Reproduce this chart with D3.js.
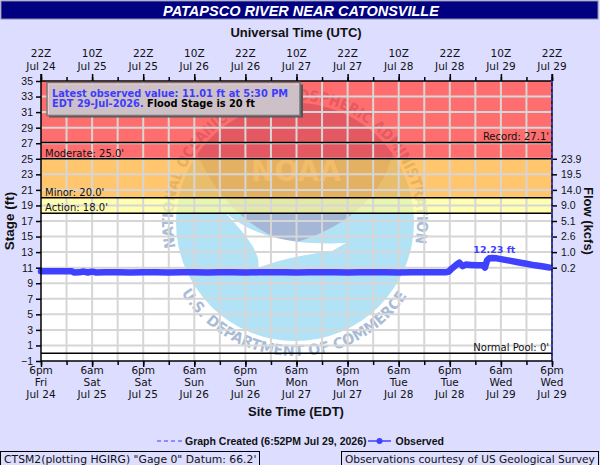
<!DOCTYPE html>
<html>
<head>
<meta charset="utf-8">
<script src="https://cdn.jsdelivr.net/npm/d3@7"></script>
<style>
  body { margin: 0; background: #ddddff; }
  svg { display: block; font-family: "DejaVu Sans", Verdana, sans-serif; }
</style>
</head>
<body>
<div id="chart"></div>
<script>
var chartTitle = "PATAPSCO RIVER NEAR CATONSVILLE";
var stageTicks = [-1, 1, 3, 5, 7, 9, 11, 13, 15, 17, 19, 21, 23, 25, 27, 29, 31, 33, 35];
var flowTickStages = [25, 23, 21, 19, 17, 15, 13, 11];
var flowTickLabels = ["23.9", "19.5", "14.0", "9.0", "5.1", "2.6", "1.0", "0.2"];
var utcTickLabels = ["22Z", "10Z", "22Z", "10Z", "22Z", "10Z", "22Z", "10Z", "22Z", "10Z", "22Z"];
var utcTickDates = ["Jul 24", "Jul 25", "Jul 25", "Jul 26", "Jul 26", "Jul 27", "Jul 27", "Jul 28", "Jul 28", "Jul 29", "Jul 29"];
var siteTickHours = ["6pm", "6am", "6pm", "6am", "6pm", "6am", "6pm", "6am", "6pm", "6am", "6pm"];
var siteTickDays = ["Fri", "Sat", "Sat", "Sun", "Sun", "Mon", "Mon", "Tue", "Tue", "Wed", "Wed"];
var siteTickDates = ["Jul 24", "Jul 25", "Jul 25", "Jul 26", "Jul 26", "Jul 27", "Jul 27", "Jul 28", "Jul 28", "Jul 29", "Jul 29"];

var actionStage = 18, minorStage = 20, moderateStage = 25, recordStage = 27.1, normalPool = 0;
var peakStage = 12.23;

var obsTimes = [
  "2026-07-24 18:00", "2026-07-24 21:00", "2026-07-25 00:00", "2026-07-25 01:15", "2026-07-25 01:45",
  "2026-07-25 03:00", "2026-07-25 04:00", "2026-07-25 05:00", "2026-07-25 06:00", "2026-07-25 07:00",
  "2026-07-25 09:00", "2026-07-25 12:00", "2026-07-25 15:00", "2026-07-25 18:00", "2026-07-25 21:00",
  "2026-07-26 00:00", "2026-07-26 03:00", "2026-07-26 06:00", "2026-07-26 09:00", "2026-07-26 12:00",
  "2026-07-26 15:00", "2026-07-26 18:00", "2026-07-26 21:00", "2026-07-27 00:00", "2026-07-27 03:00",
  "2026-07-27 06:00", "2026-07-27 09:00", "2026-07-27 12:00", "2026-07-27 15:00", "2026-07-27 18:00",
  "2026-07-27 21:00", "2026-07-28 00:00", "2026-07-28 03:00", "2026-07-28 06:00", "2026-07-28 09:00",
  "2026-07-28 12:00", "2026-07-28 15:00", "2026-07-28 17:00", "2026-07-28 17:45", "2026-07-28 18:30",
  "2026-07-28 19:30", "2026-07-28 20:15", "2026-07-28 21:00", "2026-07-28 21:45", "2026-07-28 23:00",
  "2026-07-29 00:30", "2026-07-29 01:45", "2026-07-29 02:15", "2026-07-29 02:45", "2026-07-29 03:15",
  "2026-07-29 04:00", "2026-07-29 05:00", "2026-07-29 06:00", "2026-07-29 08:00", "2026-07-29 10:00",
  "2026-07-29 12:00", "2026-07-29 14:00", "2026-07-29 16:00", "2026-07-29 17:30"
];
var obsStage = [
  10.55, 10.55, 10.55, 10.55, 10.38,
  10.40, 10.50, 10.38, 10.50, 10.38,
  10.40, 10.40, 10.38, 10.40, 10.40,
  10.38, 10.40, 10.40, 10.38, 10.40,
  10.40, 10.38, 10.40, 10.40, 10.40,
  10.38, 10.40, 10.40, 10.40, 10.38,
  10.40, 10.40, 10.40, 10.38, 10.40,
  10.40, 10.40, 10.40, 10.50, 10.90,
  11.35, 11.65, 11.20, 11.40, 11.35,
  11.30, 11.30, 11.00, 11.95, 12.20,
  12.23, 12.20, 12.10, 11.90, 11.70,
  11.50, 11.30, 11.15, 11.01
];

// ---- layout / style ----
var W = 600, H = 465;
var margin = {top: 81, right: 48, bottom: 104, left: 41};
var plotW = W - margin.left - margin.right;
var plotH = H - margin.top - margin.bottom;
// bands are laid semi-transparent over the watermark (0.7 opacity gives #ff6f6f, #ffc66f, #ffffb3 on white)
var colors = {bg: "#ddddff", action: "#ffff92", minor: "#ffae31", moderate: "#ff3131", bandOpacity: 0.7,
  grid: "#d6d6d6", obs: "#4040ff", title: "#000080",
  wmLight: "#b2e2f6", wmDark: "#a6b6d6", wmText: "#a8bcd8"};

var parse = d3.timeParse("%Y-%m-%d %H:%M");
var obs = obsTimes.map(function(t, i) { return {t: parse(t), v: obsStage[i]}; });
var t0 = parse("2026-07-24 18:00"), t1 = parse("2026-07-29 18:00");

var x = d3.scaleTime().domain([t0, t1]).range([0, plotW]);
var y = d3.scaleLinear().domain([-1, 35]).range([plotH, 0]);
var majorTimes = d3.timeHour.range(t0, d3.timeMinute.offset(t1, 1), 12);
var minorTimes = d3.timeHour.range(t0, d3.timeMinute.offset(t1, 1), 6);

var svg = d3.select("#chart").append("svg").attr("width", W).attr("height", H);
svg.append("rect").attr("width", W).attr("height", H).attr("fill", colors.bg);

// title bar
svg.append("rect").attr("x", 1).attr("y", 1).attr("width", 597).attr("height", 18)
  .attr("fill", colors.title).attr("stroke", "#8888a8").attr("stroke-width", 1);
svg.append("text").attr("x", 301).attr("y", 15.5).attr("text-anchor", "middle")
  .style("font-family", "'Liberation Sans', Arial, sans-serif").style("font-weight", "bold")
  .style("font-style", "italic").style("font-size", "14.5px").attr("fill", "white").text(chartTitle);

svg.append("text").attr("x", 296).attr("y", 37).attr("text-anchor", "middle")
  .style("font-family", "'Liberation Sans', Arial, sans-serif").style("font-weight", "bold")
  .style("font-size", "13px").attr("fill", "#111").text("Universal Time (UTC)");

var g = svg.append("g").attr("transform", "translate(" + margin.left + "," + margin.top + ")");
g.append("rect").attr("width", plotW).attr("height", plotH).attr("fill", "white");

// NOAA watermark (under the flood bands)
var wm = svg.append("g").attr("class", "watermark");
var cx = 295, cy = 222, r = 119;
function pt(a, rad) { var t = a * Math.PI / 180; return [cx + rad * Math.cos(t), cy + rad * Math.sin(t)]; }
var a1 = pt(215, r), a2 = pt(325, r);
var darkPath = "M" + a1 + " A" + r + "," + r + " 0 0 1 " + a2 +
  " C385,190 352,226 294,243 C255,236 214,196 " + a1 + " Z";
wm.append("circle").attr("cx", cx).attr("cy", cy).attr("r", r).attr("fill", colors.wmLight);
wm.append("path").attr("d", darkPath).attr("fill", colors.wmDark);
wm.append("path").attr("d", "M216,203 C242,233 284,246 346,243 L332,251 C302,255 278,260 258,268 C262,252 242,230 216,203 Z")
  .attr("fill", "white");
wm.append("text").attr("x", 296).attr("y", 181).attr("text-anchor", "middle")
  .attr("textLength", 90).attr("lengthAdjust", "spacingAndGlyphs")
  .style("font-weight", "bold").style("font-size", "30px").attr("fill", "#d6dcec").text("NOAA");
var u1 = pt(168, 122), u2 = pt(12, 122);
wm.append("path").attr("id", "arcTop").attr("fill", "none")
  .attr("d", "M" + u1 + " A122,122 0 1 1 " + u2);
var l1 = pt(148, 134), l2 = pt(32, 134);
wm.append("path").attr("id", "arcBottom").attr("fill", "none")
  .attr("d", "M" + l1 + " A134,134 0 0 0 " + l2);
wm.append("text").style("font-weight", "bold").style("font-size", "15px").attr("fill", colors.wmText)
  .append("textPath").attr("href", "#arcTop").attr("textLength", 430).attr("lengthAdjust", "spacingAndGlyphs")
  .text("NATIONAL OCEANIC AND ATMOSPHERIC ADMINISTRATION");
wm.append("text").style("font-weight", "bold").style("font-size", "15px").attr("fill", colors.wmText)
  .append("textPath").attr("href", "#arcBottom").attr("textLength", 268).attr("lengthAdjust", "spacingAndGlyphs")
  .text("U.S. DEPARTMENT OF COMMERCE");

var g2 = svg.append("g").attr("transform", "translate(" + margin.left + "," + margin.top + ")");

// flood category bands
var bands = g2.append("g").attr("fill-opacity", colors.bandOpacity);
bands.append("rect").attr("x", 0).attr("width", plotW).attr("y", y(35)).attr("height", y(moderateStage) - y(35)).attr("fill", colors.moderate);
bands.append("rect").attr("x", 0).attr("width", plotW).attr("y", y(moderateStage)).attr("height", y(minorStage) - y(moderateStage)).attr("fill", colors.minor);
bands.append("rect").attr("x", 0).attr("width", plotW).attr("y", y(minorStage)).attr("height", y(actionStage) - y(minorStage)).attr("fill", colors.action);

// grid
g2.append("g").selectAll("line").data(minorTimes.slice(1, -1)).enter().append("line")
  .attr("x1", function(d) { return x(d); }).attr("x2", function(d) { return x(d); })
  .attr("y1", 0).attr("y2", plotH).attr("stroke", colors.grid).attr("stroke-width", 2);
g2.append("g").selectAll("line").data(stageTicks.slice(1, -1)).enter().append("line")
  .attr("x1", 0).attr("x2", plotW).attr("y1", function(d) { return y(d); }).attr("y2", function(d) { return y(d); })
  .attr("stroke", colors.grid).attr("stroke-width", 2);

// category lines and labels
[35, recordStage, moderateStage, minorStage, actionStage, normalPool].forEach(function(s) {
  g2.append("line").attr("x1", 0).attr("x2", plotW).attr("y1", y(s)).attr("y2", y(s))
    .attr("stroke", "black").attr("stroke-width", 1.5);
});
var lab = g2.append("g").style("font-size", "10px").attr("fill", "#111");
lab.append("text").attr("x", 4).attr("y", y(moderateStage) - 2).text("Moderate: " + moderateStage.toFixed(1) + "'");
lab.append("text").attr("x", 4).attr("y", y(minorStage) - 2).text("Minor: " + minorStage.toFixed(1) + "'");
lab.append("text").attr("x", 4).attr("y", y(actionStage) - 2).text("Action: " + actionStage.toFixed(1) + "'");
lab.append("text").attr("x", plotW - 3).attr("y", y(recordStage) - 2).attr("text-anchor", "end").text("Record: " + recordStage + "'");
lab.append("text").attr("x", plotW - 3).attr("y", y(normalPool) - 2).attr("text-anchor", "end").text("Normal Pool: " + normalPool + "'");

// observed line
var line = d3.line().x(function(d) { return x(d.t); }).y(function(d) { return y(d.v); });
g2.append("path").datum(obs).attr("d", line).attr("fill", "none").attr("stroke", colors.obs)
  .attr("stroke-width", 6.5).attr("stroke-linejoin", "round").attr("stroke-linecap", "round");
var peak = obs.reduce(function(a, b) { return b.v > a.v ? b : a; });
g2.append("text").attr("x", x(peak.t) + 2).attr("y", y(peakStage) - 5).attr("text-anchor", "middle")
  .style("font-weight", "bold").style("font-size", "9.5px").attr("fill", colors.obs).text(peakStage + " ft");

// latest value box
var last = obs[obs.length - 1];
g2.append("rect").attr("x", 8).attr("y", 3.5).attr("width", 254).attr("height", 33).attr("fill", "#555");
g2.append("rect").attr("x", 6).attr("y", 1.5).attr("width", 253).attr("height", 33)
  .attr("fill", "#f0e0e8").attr("fill-opacity", 0.78).attr("stroke", "#777").attr("stroke-width", 1.5);
var box = g2.append("text").style("font-weight", "bold").style("font-size", "9.8px");
box.append("tspan").attr("x", 11).attr("y", 15.5).attr("fill", "#3c3cff")
  .text("Latest observed value: " + last.v.toFixed(2) + " ft at 5:30 PM");
box.append("tspan").attr("x", 11).attr("y", 26).attr("fill", "#3c3cff").text("EDT 29-Jul-2026.");
box.append("tspan").attr("fill", "black").text(" Flood Stage is " + minorStage + " ft");

// axes
var tickFont = function(sel) { sel.selectAll("text").style("font-size", "10.5px").attr("fill", "#111"); sel.select(".domain").remove(); };
var yl = g2.append("g").call(d3.axisLeft(y).tickValues(stageTicks).tickSize(5).tickPadding(3));
tickFont(yl);
yl.selectAll("line").attr("stroke-width", 1.5);
g2.append("line").attr("x1", 0).attr("x2", 0).attr("y1", -7).attr("y2", plotH).attr("stroke", "black").attr("stroke-width", 1.5);

var yr = g2.append("g").attr("transform", "translate(" + plotW + ",0)")
  .call(d3.axisRight(y).tickValues(flowTickStages).tickSize(5).tickPadding(4)
    .tickFormat(function(d, i) { return flowTickLabels[i]; }));
tickFont(yr);
yr.selectAll("line").attr("stroke-width", 1.5);
g2.append("line").attr("x1", plotW).attr("x2", plotW).attr("y1", -7).attr("y2", plotH).attr("stroke", "black").attr("stroke-width", 1.5);
g2.append("line").attr("x1", plotW).attr("x2", plotW).attr("y1", -7).attr("y2", plotH).attr("stroke", "#3c3cff")
  .attr("stroke-width", 1.5).attr("stroke-dasharray", "3,3");

// bottom (site time) axis
var xb = g2.append("g").attr("transform", "translate(0," + plotH + ")");
xb.append("g").call(d3.axisBottom(x).tickValues(minorTimes).tickSize(4).tickFormat("")).call(tickFont);
xb.append("g").call(d3.axisBottom(x).tickValues(majorTimes).tickSize(6).tickFormat("")).call(tickFont);
xb.selectAll("line").attr("stroke-width", 1.5);
g2.append("line").attr("x1", 0).attr("x2", plotW).attr("y1", plotH).attr("y2", plotH).attr("stroke", "black").attr("stroke-width", 1.5);
var bl = xb.append("g").selectAll("text").data(majorTimes).enter().append("text")
  .attr("text-anchor", "middle").style("font-size", "10.5px").attr("fill", "#111");
bl.append("tspan").attr("x", function(d) { return x(d); }).attr("y", 13).text(function(d, i) { return siteTickHours[i]; });
bl.append("tspan").attr("x", function(d) { return x(d); }).attr("y", 24.5).text(function(d, i) { return siteTickDays[i]; });
bl.append("tspan").attr("x", function(d) { return x(d); }).attr("y", 37).text(function(d, i) { return siteTickDates[i]; });

// top (UTC) axis
var xt = g2.append("g");
xt.append("g").call(d3.axisTop(x).tickValues(minorTimes).tickSize(4).tickFormat("")).call(tickFont);
xt.append("g").call(d3.axisTop(x).tickValues(majorTimes).tickSize(7).tickFormat("")).call(tickFont);
xt.selectAll("line").attr("stroke-width", 1.5);
var tl = xt.append("g").selectAll("text").data(majorTimes).enter().append("text")
  .attr("text-anchor", "middle").style("font-size", "10.5px").attr("fill", "#111");
tl.append("tspan").attr("x", function(d) { return x(d); }).attr("y", -24).text(function(d, i) { return utcTickLabels[i]; });
tl.append("tspan").attr("x", function(d) { return x(d); }).attr("y", -11.5).text(function(d, i) { return utcTickDates[i]; });

// axis titles
var boldSans = function(sel) { sel.style("font-family", "'Liberation Sans', Arial, sans-serif").style("font-weight", "bold").attr("fill", "#111"); };
svg.append("text").attr("transform", "translate(14," + (margin.top + y(17)) + ") rotate(-90)")
  .attr("text-anchor", "middle").style("font-size", "13.5px").call(boldSans).text("Stage (ft)");
svg.append("text").attr("transform", "translate(584," + (margin.top + y(17)) + ") rotate(90)")
  .attr("text-anchor", "middle").style("font-size", "13px").call(boldSans).text("Flow (kcfs)");
svg.append("text").attr("x", 296).attr("y", 416).attr("text-anchor", "middle")
  .style("font-size", "13px").call(boldSans).text("Site Time (EDT)");

// legend
var lg = svg.append("g");
lg.append("line").attr("x1", 157).attr("x2", 183).attr("y1", 441).attr("y2", 441)
  .attr("stroke", "#3c3cff").attr("stroke-width", 1).attr("stroke-dasharray", "4,3");
lg.append("text").attr("x", 185).attr("y", 445).style("font-size", "10.5px").call(boldSans)
  .text("Graph Created (6:52PM Jul 29, 2026)");
lg.append("line").attr("x1", 368).attr("x2", 391).attr("y1", 441).attr("y2", 441)
  .attr("stroke", colors.obs).attr("stroke-width", 1.5);
lg.append("circle").attr("cx", 379.5).attr("cy", 441).attr("r", 3).attr("fill", colors.obs);
lg.append("text").attr("x", 395.5).attr("y", 445).style("font-size", "10.5px").call(boldSans).text("Observed");

// footer boxes
svg.append("rect").attr("x", 0.5).attr("y", 451.5).attr("width", 259).attr("height", 15)
  .attr("fill", "none").attr("stroke", "black");
svg.append("text").attr("x", 4).attr("y", 463).style("font-size", "10.8px").attr("fill", "#111")
  .text("CTSM2(plotting HGIRG) \"Gage 0\" Datum: 66.2'");
svg.append("rect").attr("x", 341.5).attr("y", 451.5).attr("width", 257).attr("height", 15)
  .attr("fill", "none").attr("stroke", "black");
svg.append("text").attr("x", 345).attr("y", 463).style("font-size", "10.6px").attr("fill", "#111")
  .text("Observations courtesy of US Geological Survey");
</script>
</body>
</html>
